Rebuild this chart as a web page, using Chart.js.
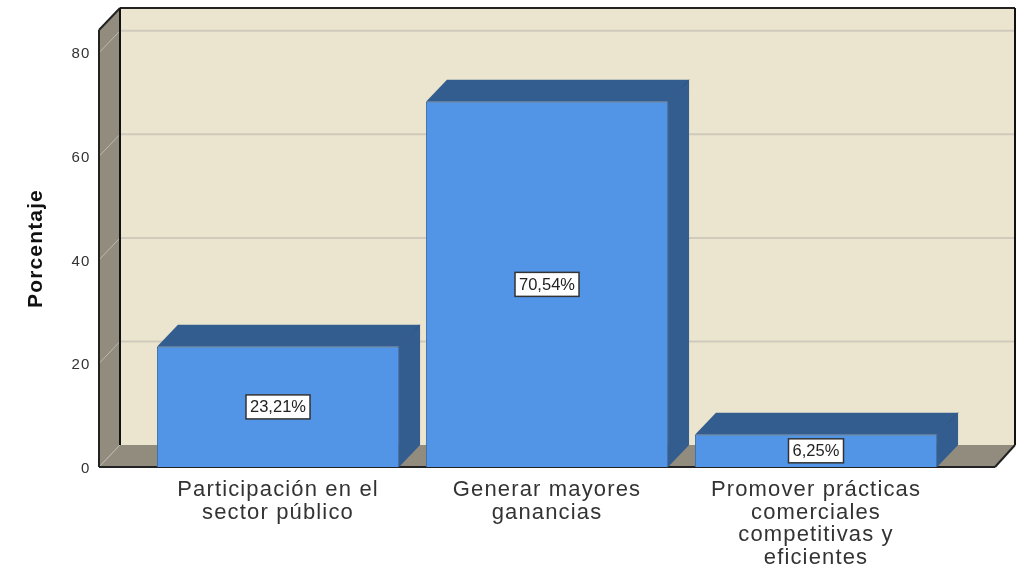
<!DOCTYPE html>
<html>
<head>
<meta charset="utf-8">
<style>html,body{margin:0;padding:0;background:#fff}canvas{display:block}</style>
<script src="https://cdn.jsdelivr.net/npm/chart.js@4"></script>
</head>
<body>
<canvas id="c" width="1025" height="566"></canvas>
<script>
const categories = [
  ["Participación en el", "sector público"],
  ["Generar mayores", "ganancias"],
  ["Promover prácticas", "comerciales", "competitivas y", "eficientes"]
];
const values = [23.21, 70.54, 6.25];
const dataLabels = ["23,21%", "70,54%", "6,25%"];
const yTickStep = 20;
const yAxisMax = 84.4;
const yTitle = "Porcentaje";

const DX = 21, DY = 22;          // depth of the 3D box
const BOX_LEFT = 44.5, BOX_RIGHT = 44.5;
const FONT = '"Liberation Sans", Arial, sans-serif';
const SPACING = "1.15px";

function poly(ctx, pts, fill) {
  ctx.beginPath();
  pts.forEach((p, i) => i ? ctx.lineTo(p[0], p[1]) : ctx.moveTo(p[0], p[1]));
  ctx.closePath();
  ctx.fillStyle = fill;
  ctx.fill();
}
function line(ctx, x1, y1, x2, y2, color, w) {
  ctx.beginPath();
  ctx.moveTo(x1, y1);
  ctx.lineTo(x2, y2);
  ctx.strokeStyle = color;
  ctx.lineWidth = w;
  ctx.stroke();
}

const box3d = {
  id: "box3d",
  beforeUpdate(chart) { chart.ctx.letterSpacing = SPACING; },
  beforeDraw(chart) { chart.ctx.letterSpacing = SPACING; },
  beforeDatasetsDraw(chart) {
    const { ctx, chartArea: a, scales: { y } } = chart;
    const L = a.left - BOX_LEFT, R = a.right + BOX_RIGHT, T = a.top, B = a.bottom;
    ctx.save();
    // back wall, left wall, floor
    poly(ctx, [[L + DX, T - DY], [R + DX - 1, T - DY], [R + DX - 1, B - DY], [L + DX, B - DY]], "#EBE4CE");
    poly(ctx, [[L, T], [L + DX, T - DY], [L + DX, B - DY], [L, B]], "#918C7D");
    poly(ctx, [[L, B], [L + DX, B - DY], [R + DX - 1, B - DY], [R, B]], "#918C7D");
    // grid lines
    y.ticks.forEach(t => {
      const py = y.getPixelForValue(t.value);
      line(ctx, L, py, L + DX, py - DY, "#BDB9AC", 1);
      if (t.value !== 0) line(ctx, L + DX, py - DY, R + DX - 1, py - DY, "#CFCABB", 2);
    });
    // frame
    line(ctx, L, T, L, B, "#222222", 2);
    line(ctx, L, T, L + DX, T - DY, "#222222", 2);
    line(ctx, L + DX, T - DY, R + DX - 1, T - DY, "#222222", 2);
    line(ctx, L + DX, T - DY, L + DX, B - DY, "#111111", 2);
    line(ctx, R + DX - 1, T - DY, R + DX - 1, B - DY, "#111111", 2);
    line(ctx, R, B, R + DX - 1, B - DY, "#222222", 2);
    line(ctx, L, B, R, B, "#222222", 2);
    // bar depth faces
    chart.getDatasetMeta(0).data.forEach(bar => {
      const l = bar.x - bar.width / 2, r = bar.x + bar.width / 2, t = bar.y, b = bar.base;
      poly(ctx, [[l, t], [l + DX, t - DY], [r + DX, t - DY], [r, t]], "#335C8F");
      poly(ctx, [[r, t], [r + DX, t - DY], [r + DX, b - DY], [r, b]], "#335C8F");
      line(ctx, r, t, r + DX, t - DY, "#2C5180", 1);
    });
    ctx.restore();
  },
  afterDatasetsDraw(chart) {
    const { ctx } = chart;
    ctx.save();
    ctx.letterSpacing = "0px";
    ctx.font = "16.5px " + FONT;
    ctx.textAlign = "center";
    ctx.textBaseline = "middle";
    chart.getDatasetMeta(0).data.forEach((bar, i) => {
      const cx = bar.x, cy = (bar.y + bar.base) / 2;
      const w = Math.round(ctx.measureText(dataLabels[i]).width) + 8, h = 24;
      ctx.fillStyle = "#FFFFFF";
      ctx.fillRect(cx - w / 2, cy - h / 2, w, h);
      ctx.strokeStyle = "#333333";
      ctx.lineWidth = 1.5;
      ctx.strokeRect(cx - w / 2, cy - h / 2, w, h);
      ctx.fillStyle = "#222222";
      ctx.fillText(dataLabels[i], cx, cy + 1);
    });
    ctx.restore();
  }
};

new Chart(document.getElementById("c"), {
  type: "bar",
  data: {
    labels: categories,
    datasets: [{
      data: values,
      backgroundColor: "#5294E6",
      borderColor: "#3F6FA8",
      borderWidth: 1,
      barPercentage: 1,
      categoryPercentage: 0.9
    }]
  },
  plugins: [box3d],
  options: {
    responsive: false,
    animation: false,
    layout: { padding: { top: 30, right: 74.5, left: 0, bottom: 0 } },
    plugins: { legend: { display: false }, tooltip: { enabled: false }, title: { display: false } },
    scales: {
      x: {
        grid: { display: false, drawTicks: false },
        border: { display: false },
        ticks: {
          maxRotation: 0, minRotation: 0, autoSkip: false, padding: 12,
          color: "#333333",
          font: { family: FONT, size: 22, lineHeight: 1.02 }
        },
        afterFit(s) { s.height = 99; s.paddingTop = 0; s.paddingBottom = 0; s.paddingLeft = 0; s.paddingRight = 0; }
      },
      y: {
        min: 0,
        max: yAxisMax,
        grid: { display: false, drawTicks: false },
        border: { display: false },
        title: {
          display: true, text: yTitle, color: "#111111",
          font: { family: FONT, size: 21, weight: "bold" },
          padding: { top: 24, bottom: 0 }
        },
        ticks: {
          stepSize: yTickStep, includeBounds: false, padding: 53, labelOffset: 1.5,
          color: "#333333",
          font: { family: FONT, size: 15 }
        },
        afterFit(s) { s.width = 143.5; s.paddingTop = 0; s.paddingBottom = 0; s.paddingLeft = 0; s.paddingRight = 0; }
      }
    }
  }
});
</script>
</body>
</html>
